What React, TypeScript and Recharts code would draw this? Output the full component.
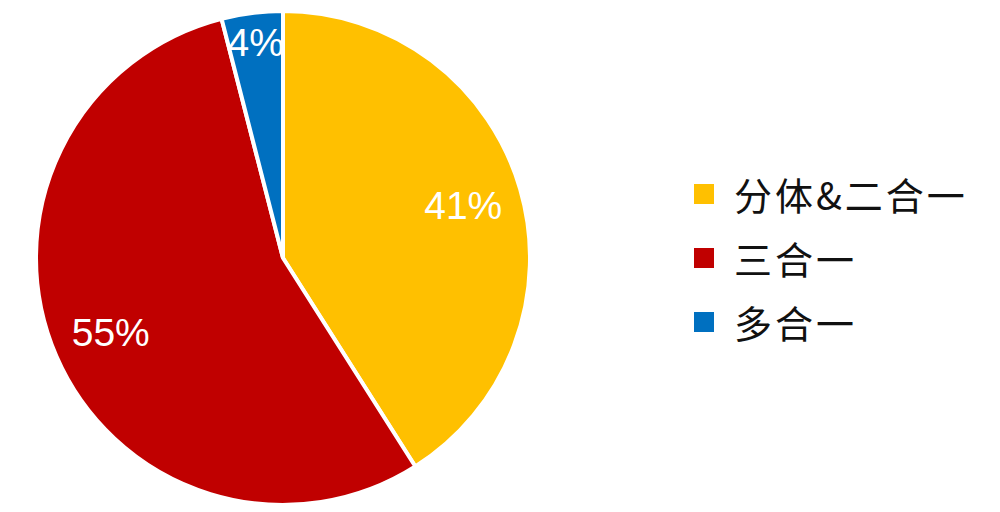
import { PieChart, Pie, Cell, Legend } from 'recharts';

const categories = ['分体&二合一', '三合一', '多合一'];
const shares = [41, 55, 4];
const colors = ['#FFC000', '#C00000', '#0070C0'];

const data = categories.map((name, i) => ({ name, value: shares[i], color: colors[i] }));

const RADIAN = Math.PI / 180;

const renderLabel = (props: any) => {
  const { cx, cy, midAngle, outerRadius, percent, value } = props;
  // small slice label sits nearer the rim, like the original
  const r = outerRadius * (percent < 0.1 ? 0.88 : 0.76);
  const x = cx + r * Math.cos(-midAngle * RADIAN);
  const y = cy + r * Math.sin(-midAngle * RADIAN);
  return (
    <text
      x={x}
      y={y}
      fill="#ffffff"
      textAnchor="middle"
      dominantBaseline="central"
      fontFamily="'Liberation Sans', Arial, sans-serif"
      fontSize={39}
    >
      {`${value}%`}
    </text>
  );
};

const renderLegend = () => (
  <div style={{ display: 'flex', flexDirection: 'column', gap: 24 }}>
    {data.map((d) => (
      <div key={d.name} style={{ display: 'flex', alignItems: 'center', height: 40 }}>
        <span style={{ width: 20, height: 20, background: d.color, display: 'inline-block', marginRight: 20 }} />
        <span
          style={{
            fontFamily: "'Noto Sans CJK SC', sans-serif",
            fontSize: 38,
            letterSpacing: 3,
            color: '#111',
            lineHeight: '40px',
          }}
        >
          {d.name}
        </span>
      </div>
    ))}
  </div>
);

export default function App() {
  return (
    <div style={{ position: 'absolute', left: 0, top: 0, width: 1000, height: 512, background: '#fff' }}>
      <PieChart width={1000} height={512} margin={{ top: 0, right: 0, bottom: 0, left: 0 }}>
        <Pie
          data={data}
          dataKey="value"
          nameKey="name"
          cx={283}
          cy={258}
          outerRadius={247}
          startAngle={90}
          endAngle={-270}
          stroke="#ffffff"
          strokeWidth={4}
          label={renderLabel}
          labelLine={false}
          isAnimationActive={false}
        >
          {data.map((entry, index) => (
            <Cell key={`cell-${index}`} fill={entry.color} />
          ))}
        </Pie>
        <Legend
          content={renderLegend}
          wrapperStyle={{ position: 'absolute', left: 694, top: 174, width: 300 }}
        />
      </PieChart>
    </div>
  );
}
